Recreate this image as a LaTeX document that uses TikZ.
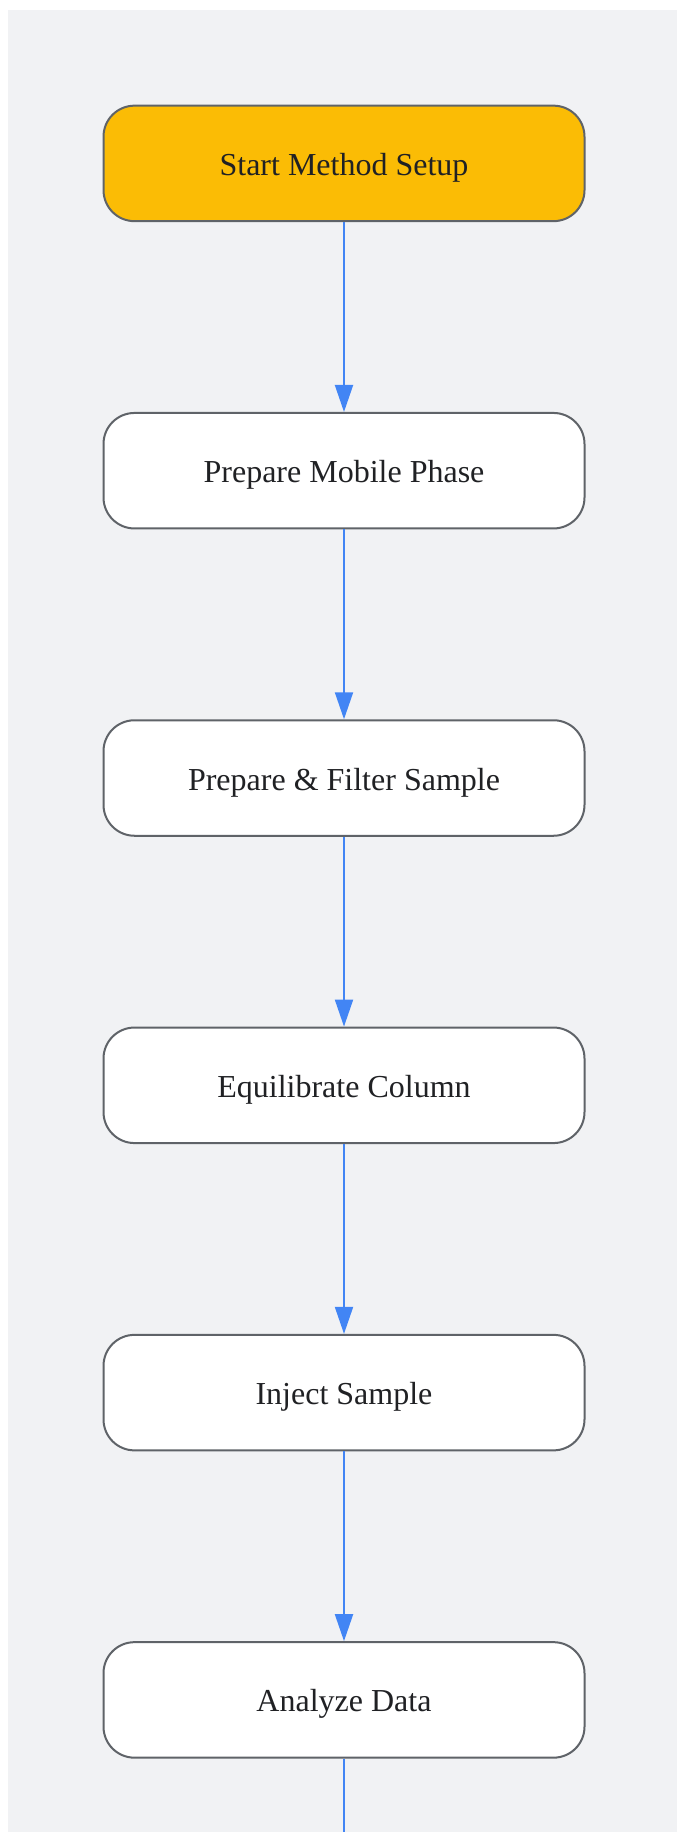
\documentclass[tikz,border=0pt]{standalone}
\usepackage{fontspec}
\setmainfont{Liberation Serif}
\usetikzlibrary{positioning,arrows.meta}
\definecolor{bggrey}{HTML}{F1F2F4}
\definecolor{startyellow}{HTML}{FBBC05}
\definecolor{boxgrey}{HTML}{5F6368}
\definecolor{flowblue}{HTML}{4285F4}
\definecolor{textgrey}{HTML}{202124}
\tikzset{>={Triangle[length=27pt,width=18pt]}}
\tikzset{
  stepbox/.style={draw=boxgrey, line width=2pt, fill=white,
    rounded corners=31pt, minimum width=481pt, minimum height=115.5pt,
    text=textgrey, font=\fontsize{32}{38}\selectfont,
    text height=24.5pt, text depth=0.5pt},
  startbox/.style={stepbox, fill=startyellow},
  flow/.style={->, flowblue, line width=2pt}
}

\begin{document}
\begin{tikzpicture}[x=1pt,y=1pt,node distance=189.8pt]
  % background
  \useasboundingbox (0,0) rectangle (677,-1832);
  \fill[bggrey] (8,-10) rectangle (677,-1832);
  % steps
  \node[startbox] (start) at (344,-163.4) {Start Method Setup};
  \node[stepbox, below=of start]  (mobile)  {Prepare Mobile Phase};
  \node[stepbox, below=of mobile] (sample)  {Prepare \& Filter Sample};
  \node[stepbox, below=of sample] (column)  {Equilibrate Column};
  \node[stepbox, below=of column] (inject)  {Inject Sample};
  \node[stepbox, below=of inject] (analyze) {Analyze Data};
  \coordinate (next) at (344,-1832);
  % arrows
  \foreach \a/\b in {start/mobile, mobile/sample, sample/column,
                     column/inject, inject/analyze}
    \draw[flow] (\a) -- (\b);
  \draw[flowblue, line width=2pt] (analyze) -- (next);
\end{tikzpicture}
\end{document}
